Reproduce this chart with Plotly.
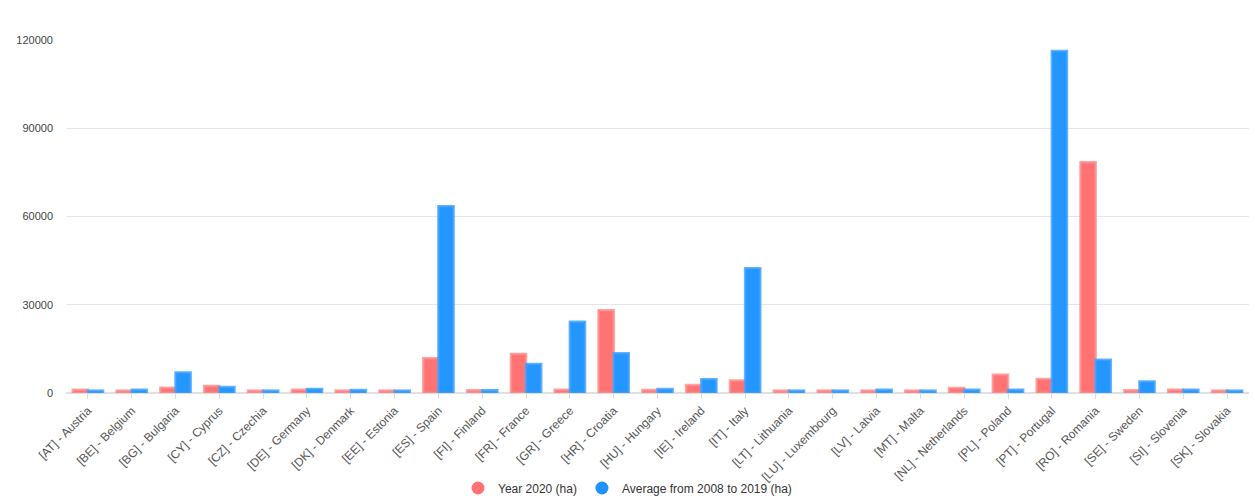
import plotly.graph_objects as go

categories = ["[AT] - Austria", "[BE] - Belgium", "[BG] - Bulgaria", "[CY] - Cyprus",
              "[CZ] - Czechia", "[DE] - Germany", "[DK] - Denmark", "[EE] - Estonia",
              "[ES] - Spain", "[FI] - Finland", "[FR] - France", "[GR] - Greece",
              "[HR] - Croatia", "[HU] - Hungary", "[IE] - Ireland", "[IT] - Italy",
              "[LT] - Lithuania", "[LU] - Luxembourg", "[LV] - Latvia", "[MT] - Malta",
              "[NL] - Netherlands", "[PL] - Poland", "[PT] - Portugal", "[RO] - Romania",
              "[SE] - Sweden", "[SI] - Slovenia", "[SK] - Slovakia"]

year_2020 = [1100, 800, 1800, 2400, 800, 1100, 800, 800, 11850, 900, 13300, 1100,
             28100, 1000, 2700, 4250, 800, 800, 800, 800, 1700, 6200, 4750, 78400,
             900, 1100, 800]

avg_2008_2019 = [800, 1100, 7000, 2000, 800, 1400, 1000, 800, 63500, 900, 9900, 24250,
                 13550, 1350, 4700, 42400, 800, 800, 1100, 800, 1100, 1100, 116250, 11300,
                 3950, 1100, 800]

series_names = ["Year 2020 (ha)", "Average from 2008 to 2019 (ha)"]
y_ticks = [0, 30000, 60000, 90000, 120000]

RED_FILL = "rgba(255,107,107,0.95)"
RED_LINE = "rgba(255,140,140,0.8)"
BLUE_FILL = "rgba(24,144,255,0.95)"
BLUE_LINE = "rgba(60,160,255,0.8)"

fig = go.Figure()
fig.add_trace(go.Bar(x=categories, y=year_2020, name=series_names[0],
                     marker=dict(color=RED_FILL, line=dict(color=RED_LINE, width=2.5)),
                     showlegend=False))
fig.add_trace(go.Bar(x=categories, y=avg_2008_2019, name=series_names[1],
                     marker=dict(color=BLUE_FILL, line=dict(color=BLUE_LINE, width=2.5)),
                     showlegend=False))
# legend entries with circle markers
fig.add_trace(go.Scatter(x=[None], y=[None], mode="markers", name=series_names[0],
                         marker=dict(symbol="circle", size=13, color="#ff7373")))
fig.add_trace(go.Scatter(x=[None], y=[None], mode="markers", name=series_names[1],
                         marker=dict(symbol="circle", size=13, color="#1f94ff")))

fig.update_layout(
    width=1255, height=500,
    margin=dict(l=66, r=6, t=40, b=107),
    paper_bgcolor="white", plot_bgcolor="white",
    barmode="group", bargap=0.31, bargroupgap=0,
    font=dict(family="Liberation Sans, Arial, sans-serif", size=11, color="#444"),
    legend=dict(orientation="h", x=0.5, xanchor="center", xref="container",
                y=0.024, yanchor="middle", yref="container", bgcolor="rgba(0,0,0,0)",
                font=dict(size=12, color="#333"), itemwidth=30, tracegroupgap=0),
    xaxis=dict(type="category", tickangle=-45, showgrid=False, showline=False,
               ticks="outside", ticklen=5, tickcolor="#ddd", tickfont=dict(size=12, color="#555"),
               fixedrange=True, automargin=False),
    yaxis=dict(range=[0, 120000], tickvals=y_ticks, ticktext=[str(v) for v in y_ticks],
               showgrid=True, gridcolor="#e6e6e6", gridwidth=1,
               zeroline=True, zerolinecolor="#e0e0e0", zerolinewidth=2,
               showline=False, ticks="", ticklabelstandoff=12, automargin=False,
               tickfont=dict(size=11, color="#444")),
)

fig.write_html("out.html")
